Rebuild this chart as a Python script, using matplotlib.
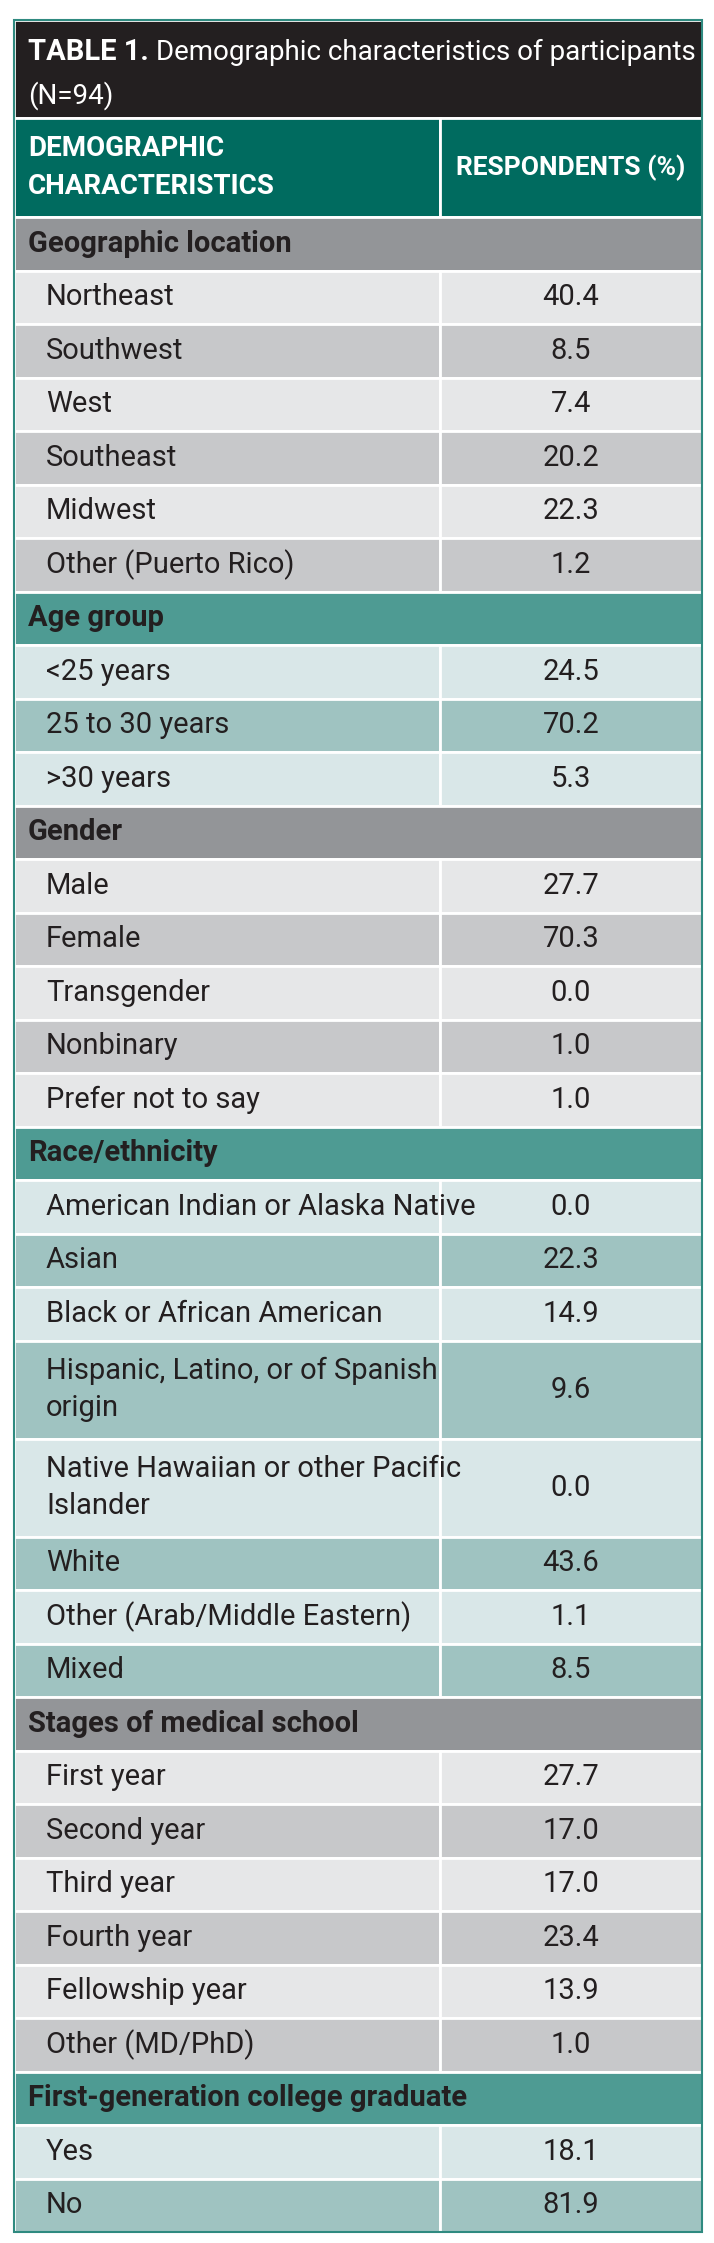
import matplotlib.pyplot as plt
from matplotlib.patches import Rectangle

title_bold = "TABLE 1."
title_rest = "Demographic characteristics of participants\n(N=94)"
col_headers = ["DEMOGRAPHIC\nCHARACTERISTICS", "RESPONDENTS (%)"]

sections = ["Geographic location", "Age group", "Gender", "Race/ethnicity",
            "Stages of medical school", "First-generation college graduate"]
labels = [
    ["Northeast", "Southwest", "West", "Southeast", "Midwest", "Other (Puerto Rico)"],
    ["<25 years", "25 to 30 years", ">30 years"],
    ["Male", "Female", "Transgender", "Nonbinary", "Prefer not to say"],
    ["American Indian or Alaska Native", "Asian", "Black or African American",
     "Hispanic, Latino, or of Spanish\norigin", "Native Hawaiian or other Pacific\nIslander",
     "White", "Other (Arab/Middle Eastern)", "Mixed"],
    ["First year", "Second year", "Third year", "Fourth year", "Fellowship year", "Other (MD/PhD)"],
    ["Yes", "No"],
]
values = [
    [40.4, 8.5, 7.4, 20.2, 22.3, 1.2],
    [24.5, 70.2, 5.3],
    [27.7, 70.3, 0.0, 1.0, 1.0],
    [0.0, 22.3, 14.9, 9.6, 0.0, 43.6, 1.1, 8.5],
    [27.7, 17.0, 17.0, 23.4, 13.9, 1.0],
    [18.1, 81.9],
]

FONT = ["Roboto", "DejaVu Sans"]
gray_theme = dict(sec="#939598", a="#e6e7e8", b="#c7c8ca")
teal_theme = dict(sec="#4e9b93", a="#d9e7e8", b="#9fc3c1")
themes = [gray_theme, teal_theme]

W, H = 714, 2243
L, R, DIV = 14, 702, 440
ROW, DROW = 53.5, 98

fig = plt.figure(figsize=(W / 100, H / 100), dpi=100)
ax = fig.add_axes([0, 0, 1, 1])
ax.set_xlim(0, W)
ax.set_ylim(H, 0)
ax.axis("off")

def rect(x0, y0, x1, y1, color):
    ax.add_patch(Rectangle((x0, y0), x1 - x0, y1 - y0, facecolor=color, edgecolor="white", lw=2))

# title
rect(L, 20, R, 118, "#231f20")
tb = ax.text(L + 14, 52, title_bold, color="white", fontsize=21, fontweight="bold", family=FONT, va="center")
fig.canvas.draw()
bb = tb.get_window_extent()
x_rest = bb.x1 + 7  # pixel coords == data x coords here
ax.text(x_rest, 52, title_rest.split("\n")[0], color="white", fontsize=20, family=FONT, va="center")
ax.text(L + 14, 96, title_rest.split("\n")[1], color="white", fontsize=20, family=FONT, va="center")

# column headers
rect(L, 118, DIV, 217, "#006b5f")
rect(DIV, 118, R, 217, "#006b5f")
ax.text(L + 14, 167.5, col_headers[0], color="white", fontsize=20, fontweight="bold",
        family=FONT, va="center", linespacing=1.5)
ax.text((DIV + R) / 2, 167.5, col_headers[1], color="white", fontsize=19, fontweight="bold",
        family=FONT, va="center", ha="center")
y = 217

for i, sec in enumerate(sections):
    th = themes[i % 2]
    rect(L, y, R, y + ROW, th["sec"])
    ax.text(L + 14, y + ROW / 2, sec, color="#231f20", fontsize=21, fontweight="bold",
            family=FONT, va="center")
    y += ROW
    for j, (lab, v) in enumerate(zip(labels[i], values[i])):
        h = DROW if "\n" in lab else ROW
        c = th["a"] if j % 2 == 0 else th["b"]
        rect(L, y, DIV, y + h, c)
        rect(DIV, y, R, y + h, c)
        ax.text(L + 32, y + h / 2, lab, color="#231f20", fontsize=21, family=FONT,
                va="center", linespacing=1.4)
        ax.text((DIV + R) / 2, y + h / 2, f"{v:.1f}", color="#231f20", fontsize=21,
                family=FONT, va="center", ha="center")
        y += h

ax.add_patch(Rectangle((L, 20), R - L, y - 20, facecolor="none", edgecolor="#2f8a80", lw=1.5))
fig.savefig("out.png", dpi=100)
